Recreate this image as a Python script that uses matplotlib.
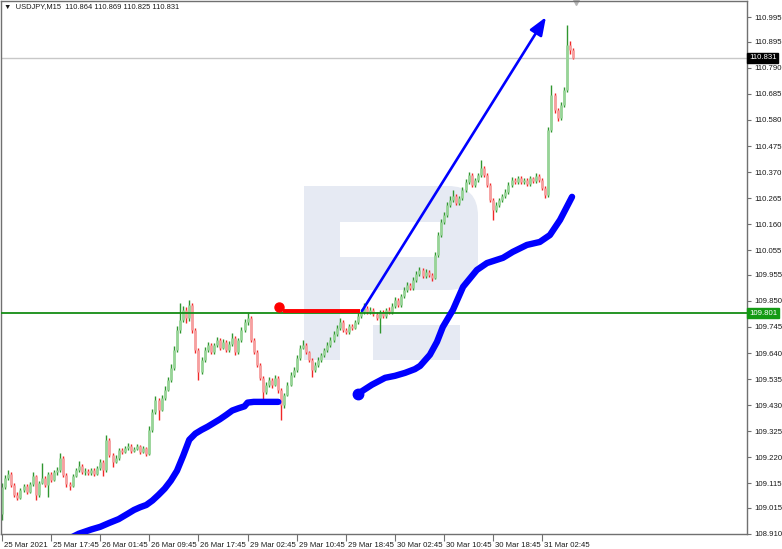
import matplotlib
matplotlib.use("Agg")
import numpy as np
import matplotlib.pyplot as plt
from matplotlib.patches import Rectangle, FancyBboxPatch
from matplotlib.transforms import Affine2D, ScaledTranslation, blended_transform_factory

W, H = 782, 549
FONT = ["Liberation Sans", "DejaVu Sans"]

SYMBOL = "USDJPY,M15"
LAST_OHLC = [110.864, 110.869, 110.825, 110.831]
LAST_PRICE = 110.831
LEVEL = 109.801

# candles, one per slot, open = previous close
first_open = 108.990
closes = [
    109.100, 109.137, 109.153, 109.108, 109.068, 109.056, 109.088, 109.104, 109.080, 109.112,
    109.145, 109.068, 109.117, 109.137, 109.108, 109.153, 109.129, 109.161, 109.169, 109.217,
    109.149, 109.112, 109.104, 109.145, 109.169, 109.185, 109.161, 109.165, 109.157, 109.169,
    109.153, 109.177, 109.201, 109.169, 109.290, 109.229, 109.201, 109.217, 109.249, 109.241,
    109.258, 109.266, 109.245, 109.254, 109.266, 109.241, 109.258, 109.233, 109.330, 109.403,
    109.451, 109.411, 109.459, 109.491, 109.532, 109.580, 109.652, 109.733, 109.773, 109.814,
    109.781, 109.834, 109.733, 109.652, 109.564, 109.612, 109.652, 109.673, 109.644, 109.673,
    109.693, 109.661, 109.685, 109.652, 109.677, 109.701, 109.644, 109.693, 109.733, 109.765,
    109.781, 109.693, 109.644, 109.592, 109.540, 109.483, 109.511, 109.532, 109.511, 109.540,
    109.491, 109.431, 109.471, 109.511, 109.552, 109.572, 109.620, 109.661, 109.673, 109.644,
    109.612, 109.572, 109.592, 109.612, 109.632, 109.652, 109.673, 109.693, 109.717, 109.741,
    109.765, 109.733, 109.725, 109.749, 109.741, 109.765, 109.790, 109.806, 109.822, 109.806,
    109.814, 109.798, 109.781, 109.806, 109.790, 109.814, 109.806, 109.830, 109.854, 109.834,
    109.870, 109.894, 109.914, 109.902, 109.935, 109.959, 109.975, 109.951, 109.967, 109.955,
    109.943, 110.035, 110.116, 110.168, 110.197, 110.237, 110.257, 110.273, 110.245, 110.265,
    110.297, 110.330, 110.358, 110.317, 110.338, 110.358, 110.386, 110.358, 110.317, 110.257,
    110.217, 110.237, 110.257, 110.273, 110.289, 110.317, 110.338, 110.330, 110.346, 110.330,
    110.338, 110.321, 110.346, 110.334, 110.354, 110.338, 110.305, 110.277, 110.539, 110.680,
    110.620, 110.587, 110.640, 110.700, 110.882, 110.864, 110.831,
]
highs = [
    109.115, 109.150, 109.169, 109.160, 109.115, 109.078, 109.096, 109.112, 109.110, 109.120,
    109.161, 109.150, 109.125, 109.197, 109.145, 109.160, 109.161, 109.170, 109.180, 109.237,
    109.225, 109.155, 109.120, 109.152, 109.177, 109.205, 109.192, 109.175, 109.172, 109.178,
    109.175, 109.185, 109.212, 109.208, 109.310, 109.298, 109.236, 109.228, 109.258, 109.256,
    109.266, 109.278, 109.272, 109.262, 109.274, 109.270, 109.265, 109.262, 109.345, 109.415,
    109.465, 109.460, 109.470, 109.505, 109.545, 109.595, 109.668, 109.750, 109.842, 109.830,
    109.825, 109.854, 109.840, 109.740, 109.660, 109.625, 109.665, 109.685, 109.680, 109.682,
    109.705, 109.700, 109.695, 109.692, 109.688, 109.721, 109.708, 109.702, 109.745, 109.778,
    109.802, 109.790, 109.700, 109.652, 109.600, 109.548, 109.522, 109.545, 109.540, 109.552,
    109.548, 109.498, 109.480, 109.522, 109.562, 109.585, 109.632, 109.672, 109.693, 109.680,
    109.650, 109.620, 109.602, 109.622, 109.642, 109.662, 109.684, 109.704, 109.728, 109.752,
    109.782, 109.772, 109.742, 109.758, 109.756, 109.774, 109.800, 109.816, 109.842, 109.830,
    109.826, 109.822, 109.806, 109.815, 109.812, 109.822, 109.824, 109.840, 109.866, 109.862,
    109.880, 109.905, 109.926, 109.922, 109.946, 109.970, 109.987, 109.982, 109.977, 109.974,
    109.962, 110.048, 110.130, 110.180, 110.210, 110.250, 110.272, 110.298, 110.280, 110.275,
    110.310, 110.342, 110.372, 110.365, 110.348, 110.368, 110.419, 110.394, 110.366, 110.325,
    110.265, 110.248, 110.266, 110.283, 110.300, 110.328, 110.350, 110.346, 110.356, 110.354,
    110.348, 110.345, 110.355, 110.352, 110.366, 110.362, 110.345, 110.312, 110.552, 110.721,
    110.690, 110.630, 110.652, 110.712, 110.963, 110.900, 110.869,
]
lows = [
    108.967, 109.090, 109.128, 109.098, 109.060, 109.048, 109.050, 109.080, 109.072, 109.075,
    109.105, 109.048, 109.060, 109.110, 109.100, 109.060, 109.120, 109.122, 109.150, 109.160,
    109.140, 109.100, 109.088, 109.098, 109.138, 109.160, 109.152, 109.150, 109.148, 109.150,
    109.145, 109.148, 109.170, 109.145, 109.160, 109.220, 109.181, 109.195, 109.210, 109.232,
    109.235, 109.250, 109.238, 109.240, 109.248, 109.233, 109.236, 109.225, 109.228, 109.322,
    109.395, 109.370, 109.405, 109.450, 109.485, 109.525, 109.572, 109.645, 109.720, 109.765,
    109.760, 109.770, 109.720, 109.640, 109.532, 109.555, 109.605, 109.645, 109.636, 109.638,
    109.666, 109.652, 109.655, 109.645, 109.646, 109.670, 109.632, 109.638, 109.686, 109.726,
    109.755, 109.684, 109.635, 109.582, 109.530, 109.451, 109.475, 109.502, 109.500, 109.505,
    109.480, 109.370, 109.420, 109.465, 109.505, 109.545, 109.565, 109.612, 109.655, 109.636,
    109.604, 109.544, 109.565, 109.585, 109.605, 109.625, 109.645, 109.666, 109.686, 109.710,
    109.734, 109.725, 109.716, 109.718, 109.733, 109.735, 109.758, 109.782, 109.798, 109.798,
    109.797, 109.788, 109.772, 109.721, 109.780, 109.783, 109.796, 109.798, 109.822, 109.825,
    109.826, 109.862, 109.886, 109.894, 109.895, 109.928, 109.950, 109.943, 109.944, 109.946,
    109.930, 109.938, 110.028, 110.108, 110.160, 110.190, 110.230, 110.250, 110.236, 110.238,
    110.258, 110.290, 110.322, 110.308, 110.310, 110.330, 110.350, 110.349, 110.308, 110.248,
    110.177, 110.208, 110.228, 110.250, 110.266, 110.282, 110.310, 110.322, 110.323, 110.322,
    110.322, 110.312, 110.314, 110.326, 110.327, 110.330, 110.296, 110.265, 110.270, 110.530,
    110.610, 110.575, 110.580, 110.632, 110.692, 110.845, 110.825,
]

# blue indicator lines (slot index, price)
ma1_idx = [20, 25, 29, 32, 35, 38, 41, 43, 45, 47, 49, 51, 53, 55, 57, 59, 61, 63, 65, 67,
           69, 71, 73, 75, 77, 79, 80, 82, 90]
ma1_val = [108.880, 108.911, 108.928, 108.939, 108.955, 108.970, 108.992, 109.007, 109.018,
           109.027, 109.045, 109.068, 109.093, 109.125, 109.165, 109.225, 109.290, 109.315,
           109.330, 109.343, 109.358, 109.373, 109.390, 109.408, 109.417, 109.425, 109.440,
           109.443, 109.443]
ma2_idx = [116.0, 120.5, 124.8, 128.0, 131.3, 134.5, 136.2, 139.4, 141.7, 143.6, 146.9,
           150.2, 154.7, 158.0, 163.2, 166.4, 171.0, 175.2, 178.5, 181.8, 185.7]
ma2_val = [109.476, 109.512, 109.540, 109.548, 109.560, 109.575, 109.588, 109.633, 109.685,
           109.745, 109.814, 109.907, 109.975, 110.003, 110.024, 110.048, 110.076, 110.088,
           110.116, 110.177, 110.270]

# red resistance segment and projection arrow
red_dot = (90.2, 109.826)
red_from, red_to, red_level = 91.5, 116.6, 109.810
arrow_from = (117.3, 109.810)
arrow_to = (177.2, 110.995)

x_tick_idx = [0, 16, 32, 48, 64, 80, 96, 112, 128, 144, 160, 176]
x_labels = ["25 Mar 2021", "25 Mar 17:45", "26 Mar 01:45", "26 Mar 09:45", "26 Mar 17:45",
            "29 Mar 02:45", "29 Mar 10:45", "29 Mar 18:45", "30 Mar 02:45", "30 Mar 10:45",
            "30 Mar 18:45", "31 Mar 02:45"]
y_ticks = [110.995, 110.895, 110.790, 110.685, 110.580, 110.475, 110.370, 110.265, 110.160,
           110.055, 109.955, 109.850, 109.745, 109.640, 109.535, 109.430, 109.325, 109.220,
           109.115, 109.015, 108.910]

plt.rcParams["font.family"] = FONT

fig = plt.figure(figsize=(W / 100, H / 100), dpi=100)
ax = fig.add_axes([1 / W, 15 / H, 746 / W, 533 / H])
ax.set_xlim(-0.33, 242.7)
ax.set_ylim(108.911, 111.060)

# watermark logo, figure pixels measured from the top-left
px = Affine2D().scale(1, -1).translate(0, H)
logo = "#e6eaf3"
ax.add_patch(FancyBboxPatch((304, 186), 174, 104, boxstyle="round,pad=0,rounding_size=30",
                            transform=px, fc=logo, ec="none", zorder=0.5))
ax.add_patch(Rectangle((340, 222), 100, 35, transform=px, fc="white", ec="none", zorder=0.6))
ax.add_patch(Rectangle((304, 186), 36, 174, transform=px, fc=logo, ec="none", zorder=0.6))
ax.add_patch(Rectangle((373, 325), 87, 35, transform=px, fc=logo, ec="none", zorder=0.6))

ax.axhline(LAST_PRICE, color="#c8c8c8", lw=1.0, zorder=1)

c = np.array(closes)
o = np.array([first_open] + closes[:-1])
hi = np.maximum(np.array(highs), np.maximum(o, c))
lo = np.minimum(np.array(lows), np.minimum(o, c))
idx = np.arange(len(c))
up = c >= o

ax.vlines(idx[up], lo[up], hi[up], color="#2f962f", lw=1.0, zorder=2)
ax.vlines(idx[~up], lo[~up], hi[~up], color="#f02828", lw=1.0, zorder=2)
ax.vlines(idx[up], o[up], c[up], color="#98d498", lw=2.0, zorder=2.1)
ax.vlines(idx[~up], c[~up], o[~up], color="#f6a0a0", lw=2.0, zorder=2.1)

ax.axhline(LEVEL, color="#148c14", lw=1.3, zorder=4)

ax.plot(ma1_idx, ma1_val, color="#0000ff", lw=4.6, solid_capstyle="round",
        solid_joinstyle="round", zorder=5)
ax.plot(ma2_idx, ma2_val, color="#0000ff", lw=4.6, solid_capstyle="round",
        solid_joinstyle="round", zorder=5)
ax.plot(ma2_idx[0], ma2_val[0], "o", ms=7.5, color="#0000ff", zorder=5)

ax.plot([red_from, red_to], [red_level, red_level], color="#ff0000", lw=2.8,
        solid_capstyle="butt", zorder=6)
ax.plot(*red_dot, "o", ms=6.5, color="#ff0000", zorder=6)

ax.annotate("", xy=arrow_to, xytext=arrow_from,
            arrowprops=dict(arrowstyle="-|>,head_length=0.9,head_width=0.35",
                            color="#0000ff", lw=1.9, shrinkA=0, shrinkB=0,
                            mutation_scale=12), zorder=6)

# chart shift marker
ax.plot(len(closes), 1 - 1 / 533, marker="v", ms=5, color="#b4b4b4",
        transform=blended_transform_factory(ax.transData, ax.transAxes), clip_on=False)

# axes
for s in ax.spines.values():
    s.set_color("#707070")
    s.set_linewidth(1.0)
ax.yaxis.tick_right()
ax.set_yticks(y_ticks, [f"{v:.3f}" for v in y_ticks])
ax.tick_params(axis="y", direction="out", length=3, width=0.8, pad=2, labelsize=5.6,
               colors="#707070", labelcolor="#1a1a1a")
ax.set_xticks(x_tick_idx, x_labels)
ax.tick_params(axis="x", direction="out", length=5, width=0.8, pad=1, labelsize=5.6,
               colors="#707070", labelcolor="#1a1a1a")
shift = ScaledTranslation(2 / 100, 0, fig.dpi_scale_trans)
for lab in ax.get_xticklabels():
    lab.set_ha("left")
    lab.set_transform(lab.get_transform() + shift)

# price tags on the right scale
tag = blended_transform_factory(ax.transAxes, ax.transData)
ax.text(1 + 2 / 746, LAST_PRICE, f"{LAST_PRICE:.3f}", transform=tag, fontsize=5.6,
        color="white", va="center", ha="left", clip_on=False, zorder=10,
        bbox=dict(boxstyle="square,pad=0.2", fc="black", ec="black"))
ax.text(1 + 2 / 746, LEVEL, f"{LEVEL:.3f}", transform=tag, fontsize=5.6,
        color="white", va="center", ha="left", clip_on=False, zorder=10,
        bbox=dict(boxstyle="square,pad=0.2", fc="#149a14", ec="#149a14"))

fig.text(4 / W, 1 - 7 / H, "\u25bc  " + SYMBOL + "  " + " ".join(f"{v:.3f}" for v in LAST_OHLC),
         fontsize=5.4, va="center", ha="left", color="#1a1a1a")

fig.savefig("out.png", dpi=100)
